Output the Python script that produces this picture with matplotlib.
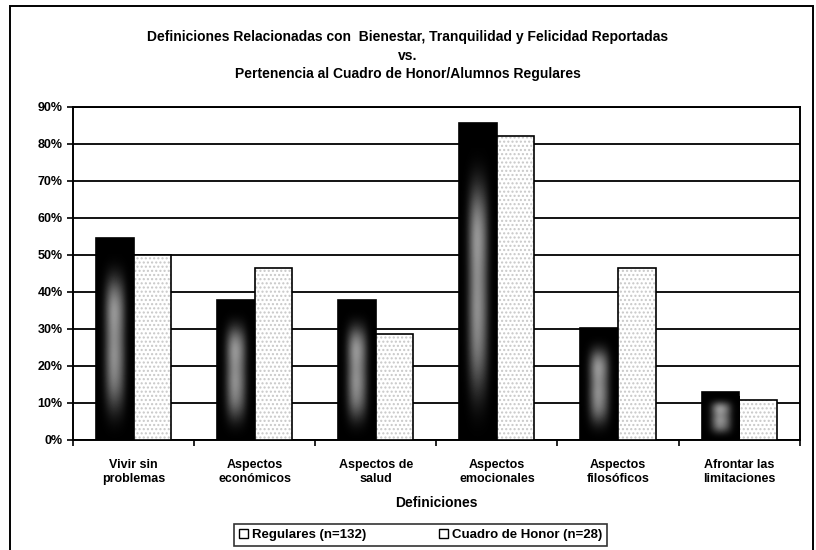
import numpy as np
import matplotlib
matplotlib.use("Agg")
import matplotlib.pyplot as plt
from matplotlib.patches import Rectangle, Patch

plt.rcParams['font.family'] = ['Liberation Sans', 'DejaVu Sans']
plt.rcParams['font.weight'] = 'bold'

# ===== DATA =====
categories = ["Vivir sin\nproblemas", "Aspectos\neconómicos", "Aspectos de\nsalud",
              "Aspectos\nemocionales", "Aspectos\nfilosóficos", "Afrontar las\nlimitaciones"]
regulares = [54.5, 37.9, 37.9, 85.6, 30.3, 12.9]
honor = [50.0, 46.4, 28.6, 82.1, 46.4, 10.7]
series_names = ["Regulares (n=132)", "Cuadro de Honor (n=28)"]
y_ticks = [0, 10, 20, 30, 40, 50, 60, 70, 80, 90]

fig = plt.figure(figsize=(8.16, 5.5), dpi=100)
ax = fig.add_axes([0.0895, 0.2, 0.8905, 0.6055])

x = np.arange(len(categories))
w = 0.31

reg_bars = ax.bar(x - w / 2, regulares, w, color='black', edgecolor='black', linewidth=1.2, zorder=3)
hon_bars = ax.bar(x + w / 2, honor, w, color='white', edgecolor='black', linewidth=1.2,
                  hatch='....', zorder=3)
for b in hon_bars:
    b._hatch_color = matplotlib.colors.to_rgba('#c8c8c8')

# soft grey core on the dark bars, fading out towards edges
hprof = np.array([0.0, 0.05, 0.35, 0.6, 0.55, 0.35, 0.05, 0.0])
vprof = np.array([0.0, 0.2, 0.6, 0.8, 0.75, 0.7, 0.75, 0.7, 0.6, 0.35, 0.1, 0.0])[:, None]
core = vprof * hprof
for b in reg_bars:
    x0, y0 = b.get_x(), b.get_y()
    bw, bh = b.get_width(), b.get_height()
    im = ax.imshow(core, cmap='gray', vmin=0, vmax=0.75, aspect='auto',
                   interpolation='bicubic', extent=(x0, x0 + bw, y0, y0 + bh * 0.92),
                   zorder=4)
    im.set_clip_path(b)

ax.set_xlim(-0.5, len(categories) - 0.5)
ax.set_ylim(0, 90)
ax.set_yticks(y_ticks)
ax.set_yticklabels([f"{v}%" for v in y_ticks], fontsize=9, fontweight='bold')
ax.yaxis.grid(True, color='black', linewidth=1.3, zorder=0)
ax.set_axisbelow(True)

ax.set_xticks(x)
ax.set_xticklabels(categories, fontsize=9, fontweight='bold')
ax.tick_params(axis='x', length=0, pad=14)
ax.set_xticks(np.arange(len(categories) + 1) - 0.5, minor=True)
ax.tick_params(axis='x', which='minor', length=4, width=1.2, direction='out')
ax.tick_params(axis='y', length=4, width=1.2, direction='out')
for s in ax.spines.values():
    s.set_linewidth(1.4)
    s.set_color('black')

ax.set_xlabel("Definiciones", fontsize=10, fontweight='bold', labelpad=8)

fig.text(0.5, 0.932, "Definiciones Relacionadas con  Bienestar, Tranquilidad y Felicidad Reportadas",
         ha='center', va='center', fontsize=10, fontweight='bold')
fig.text(0.5, 0.899, "vs.", ha='center', va='center', fontsize=10, fontweight='bold')
fig.text(0.5, 0.866, "Pertenencia al Cuadro de Honor/Alumnos Regulares",
         ha='center', va='center', fontsize=10, fontweight='bold')

handles = [Patch(facecolor='white', edgecolor='black', linewidth=1.0, label=n) for n in series_names]
leg = fig.legend(handles=handles, loc='center', bbox_to_anchor=(0.515, 0.027), ncol=2,
                 fontsize=9.5, frameon=True, fancybox=False, edgecolor='black',
                 handlelength=0.7, handleheight=0.7, handletextpad=0.3, columnspacing=5.5,
                 borderpad=0.35, borderaxespad=0)
leg.get_frame().set_linewidth(1.2)

# outer frame around the whole chart
fig.patches.append(Rectangle((10 / 816, -0.05), 803 / 816, 1.05 - 6 / 550, transform=fig.transFigure,
                             fill=False, edgecolor='black', linewidth=1.4))

fig.savefig("out.png", dpi=100, facecolor='white')
